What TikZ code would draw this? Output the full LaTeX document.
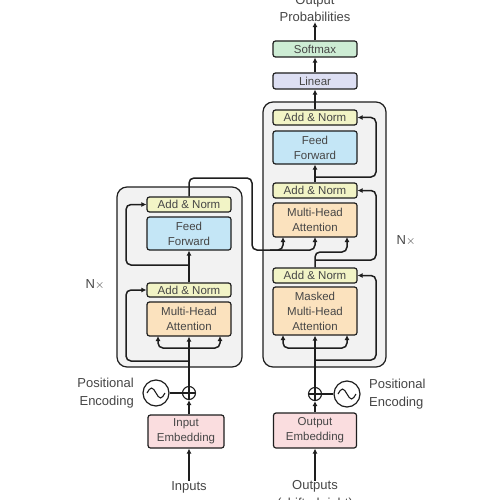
\documentclass[tikz,border=0pt]{standalone}
\usepackage{fontspec}
\setmainfont{Liberation Sans}
\usetikzlibrary{arrows.meta}
\definecolor{ancol}{RGB}{242,244,198}
\definecolor{ffcol}{RGB}{196,230,246}
\definecolor{mhacol}{RGB}{251,226,190}
\definecolor{embcol}{RGB}{250,221,223}
\definecolor{lincol}{RGB}{221,223,243}
\definecolor{smcol}{RGB}{205,236,212}
\definecolor{boxgray}{RGB}{242,242,242}
\definecolor{ink}{RGB}{30,30,30}
\definecolor{txt}{RGB}{70,70,70}
\begin{document}
\begin{tikzpicture}[x=1pt,y=-1pt,
  blk/.style={draw=ink, line width=1.2pt, rounded corners=2.5pt, minimum width=84pt,
    align=center, font=\fontsize{11.5}{15}\selectfont, text=txt, inner sep=0pt},
  lbl/.style={font=\fontsize{13}{17.5}\selectfont, text=txt, inner sep=0pt},
  ln/.style={draw=ink, line width=1.5pt},
  arr/.style={ln, -{Latex[length=5pt,width=5pt]}},
  rc/.style={rounded corners=5pt},
  outer/.style={draw=ink, line width=1.2pt, fill=boxgray, rounded corners=10pt}]
\useasboundingbox[fill=white] (0,0) rectangle (500,500);

% outer boxes
\path[outer] (117,187) rectangle (242,367);
\path[outer] (263,102) rectangle (386,367);

% encoder blocks
\node[blk, fill=ancol, minimum height=15pt] (encAN2) at (189,204.5) {Add \& Norm};
\node[blk, fill=ffcol, minimum height=33pt] (encFF) at (189,233.5) {Feed\\Forward};
\node[blk, fill=ancol, minimum height=14pt] (encAN1) at (189,290) {Add \& Norm};
\node[blk, fill=mhacol, minimum height=34pt] (encMHA) at (189,319) {Multi-Head\\Attention};
\node[blk, fill=embcol, minimum height=33pt, minimum width=76pt] (inEmb) at (186,431.5) {Input\\Embedding};

% decoder blocks
\node[blk, fill=smcol, minimum height=16pt] (softmax) at (315,49) {Softmax};
\node[blk, fill=lincol, minimum height=16pt] (linear) at (315,81) {Linear};
\node[blk, fill=ancol, minimum height=15pt] (decAN3) at (315,117.5) {Add \& Norm};
\node[blk, fill=ffcol, minimum height=33pt] (decFF) at (315,147.5) {Feed\\Forward};
\node[blk, fill=ancol, minimum height=15pt] (decAN2) at (315,190.5) {Add \& Norm};
\node[blk, fill=mhacol, minimum height=34pt] (decMHA2) at (315,220) {Multi-Head\\Attention};
\node[blk, fill=ancol, minimum height=15pt] (decAN1) at (315,275.5) {Add \& Norm};
\node[blk, fill=mhacol, minimum height=48pt] (decMHA1) at (315,311) {Masked\\Multi-Head\\Attention};
\node[blk, fill=embcol, minimum height=35pt, minimum width=83pt] (outEmb) at (315,430.5) {Output\\Embedding};

% texts
\node[lbl, align=center] (outprob) at (315,8.5) {Output\\Probabilities};
\node[lbl] (inputs) at (189,487) {Inputs};
\node[lbl, align=center] (outputs) at (315,495.5) {Outputs\\(shifted right)};
\node[lbl] (nx1) at (95,285) {N$\times$};
\node[lbl] (nx2) at (406,241) {N$\times$};
\node[lbl, align=right, anchor=east] (pe1txt) at (134,393) {Positional\\Encoding};
\node[lbl, align=left, anchor=west] (pe2txt) at (369,394) {Positional\\Encoding};

% positional encoding symbols
\node[circle, draw=ink, line width=1.2pt, fill=white, minimum size=26pt, inner sep=0pt] (pe1) at (156,393) {};
\node[circle, draw=ink, line width=1.2pt, fill=white, minimum size=26pt, inner sep=0pt] (pe2) at (347,394) {};
\draw[ink, line width=1.1pt] (pe1.center) ++(-9,0) sin ++(4.5,-5) cos ++(4.5,5) sin ++(4.5,5) cos ++(4.5,-5);
\draw[ink, line width=1.1pt] (pe2.center) ++(-9,0) sin ++(4.5,-5) cos ++(4.5,5) sin ++(4.5,5) cos ++(4.5,-5);
\node[circle, draw=ink, line width=1.1pt, fill=white, minimum size=13pt, inner sep=0pt] (plus1) at (189,393) {};
\node[circle, draw=ink, line width=1.1pt, fill=white, minimum size=13pt, inner sep=0pt] (plus2) at (315,394) {};
\draw[ink, line width=1.1pt] (plus1.north) -- (plus1.south) (plus1.west) -- (plus1.east);
\draw[ink, line width=1.1pt] (plus2.north) -- (plus2.south) (plus2.west) -- (plus2.east);
\draw[ln, line width=1.2pt] (pe1.east) -- (plus1.west);
\draw[ln, line width=1.2pt] (plus2.east) -- (pe2.west);

% encoder connectors
\coordinate (eb) at (189,348);
\coordinate (er1) at (189,361);
\coordinate (er2) at (189,265);
\draw[arr] (inputs.north) -- (inputs.north |- inEmb.south);
\draw[arr] (inEmb.north -| plus1) -- (plus1.south);
\draw[arr] (plus1.north) -- (encMHA.south);
\draw[arr, rc] (eb) -| (158,336);
\draw[arr, rc] (eb) -| (220,336);
\draw[arr, rc] (er1) -| (126,290) -- (encAN1.west);
\draw[arr] (encAN1.north) -- (encFF.south);
\draw[arr, rc] (er2) -| (126,204.5) -- (encAN2.west);
\draw[arr, rc] (encAN2.north) |- (252,178) |- (300,250) -| (315,237);
\draw[arr, rc] (270,250) -| (283,237);

% decoder connectors
\coordinate (db) at (315,348);
\coordinate (dr1) at (315,360);
\coordinate (dr2) at (315,260);
\coordinate (dr3) at (315,177);
\draw[arr] (outputs.north) -- (outEmb.south);
\draw[arr] (outEmb.north) -- (plus2.south);
\draw[arr] (plus2.north) -- (decMHA1.south);
\draw[arr, rc] (db) -| (283,335);
\draw[arr, rc] (db) -| (347,335);
\draw[arr, rc] (dr1) -| (376,275.5) -- (decAN1.east);
\draw[arr, rc] (decAN1.north) |- (347,252) -- (347,237);
\draw[arr, rc] (dr2) -| (376,190.5) -- (decAN2.east);
\draw[arr] (decAN2.north) -- (decFF.south);
\draw[arr, rc] (dr3) -| (376,117.5) -- (decAN3.east);
\draw[arr] (decAN3.north) -- (linear.south);
\draw[arr] (linear.north) -- (softmax.south);
\draw[arr] (softmax.north) -- (outprob.south);
\end{tikzpicture}
\end{document}
